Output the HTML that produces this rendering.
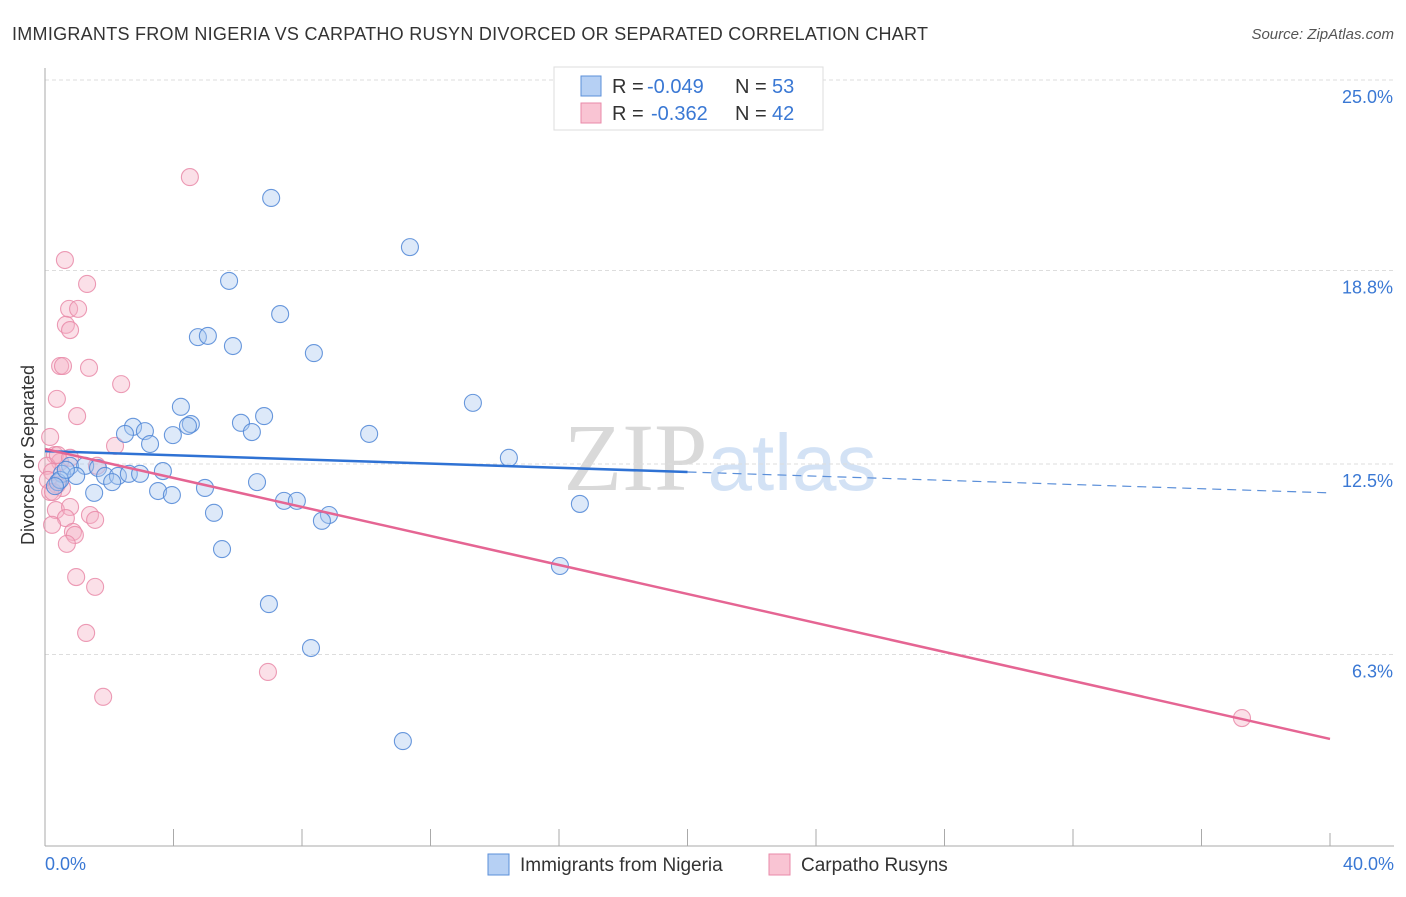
<!DOCTYPE html>
<html><head><meta charset="utf-8"><style>
body{margin:0;background:#fff;font-family:"Liberation Sans",sans-serif;}
svg text{font-family:"Liberation Sans",sans-serif;}
</style></head><body>
<svg id="c" width="1406" height="892" xmlns="http://www.w3.org/2000/svg">
<text x="12" y="40" font-size="18" fill="#333" textLength="916">IMMIGRANTS FROM NIGERIA VS CARPATHO RUSYN DIVORCED OR SEPARATED CORRELATION CHART</text>
<text x="1394" y="39" font-size="15" fill="#555" font-style="italic" text-anchor="end">Source: ZipAtlas.com</text>
<text x="720" y="490" font-size="96" fill="#e0e0e0" text-anchor="middle"><tspan font-family="Liberation Serif" fill="#d9d9d9">ZIP</tspan><tspan fill="#d3e2f5" font-size="80">atlas</tspan></text>
<g id="grid"></g>
<g id="axes"></g>
<g id="pts"></g>
<g id="lines"></g>
<text transform="translate(34,455) rotate(-90)" font-size="18" fill="#333" text-anchor="middle">Divorced or Separated</text>
<text x="45" y="870" font-size="18" fill="#3a78d4">0.0%</text>
<text x="1394" y="870" font-size="18" fill="#3a78d4" text-anchor="end">40.0%</text>
<g>
<rect x="554" y="67" width="269" height="63" fill="#fff" stroke="#ddd"/>
<rect x="581" y="76" width="20" height="20" fill="#b6d0f4" stroke="#5b8fd9"/>
<rect x="581" y="103" width="20" height="20" fill="#f9c4d3" stroke="#e98aa8"/>
<text x="612" y="93" font-size="20" fill="#333">R =</text>
<text x="647" y="93" font-size="20" fill="#3a78d4">-0.049</text>
<text x="735" y="93" font-size="20" fill="#333">N =</text>
<text x="772" y="93" font-size="20" fill="#3a78d4">53</text>
<text x="612" y="120" font-size="20" fill="#333">R =</text>
<text x="651" y="120" font-size="20" fill="#3a78d4">-0.362</text>
<text x="735" y="120" font-size="20" fill="#333">N =</text>
<text x="772" y="120" font-size="20" fill="#3a78d4">42</text>
</g>
<rect x="488" y="854" width="21" height="21" fill="#b6d0f4" stroke="#5b8fd9"/>
<text x="520" y="871" font-size="19" fill="#333">Immigrants from Nigeria</text>
<rect x="769" y="854" width="21" height="21" fill="#f9c4d3" stroke="#e98aa8"/>
<text x="801" y="871" font-size="19" fill="#333">Carpatho Rusyns</text>
</svg>
<script>
const yTicks=[25.0,18.8,12.5,6.3];
const yTickLabels=["25.0%","18.8%","12.5%","6.3%"];
const xTicks=[0,4,8,12,16,20,24,28,32,36,40];
const nigeriaX=[7.04,11.36,5.73,7.32,4.76,5.07,5.85,8.37,13.32,4.23,6.82,6.10,4.54,4.45,2.74,2.49,3.11,3.98,3.27,6.44,10.09,14.44,0.78,1.25,1.65,3.67,0.53,0.97,1.87,2.27,2.61,2.96,0.40,2.09,6.60,4.98,3.52,1.53,3.95,7.44,7.84,16.65,5.26,8.84,8.62,5.51,16.03,6.97,8.28,11.14,0.47,0.31,0.65];
const nigeriaY=[21.16,19.56,18.46,17.38,16.63,16.67,16.34,16.11,14.49,14.36,14.06,13.84,13.80,13.74,13.71,13.48,13.57,13.44,13.15,13.54,13.48,12.70,12.44,12.44,12.37,12.27,12.18,12.11,12.11,12.11,12.18,12.18,11.91,11.91,11.91,11.72,11.62,11.56,11.49,11.30,11.30,11.20,10.91,10.84,10.65,9.73,9.18,7.94,6.51,3.48,11.98,11.78,12.31];
const rusynX=[4.51,0.62,1.31,0.75,1.03,0.65,0.78,0.47,0.56,1.37,2.37,0.37,1.00,0.16,2.18,0.31,0.47,0.06,1.62,0.22,0.09,0.37,0.53,0.16,1.40,0.34,0.78,0.65,1.56,0.22,0.87,0.93,0.68,0.97,1.56,1.28,1.81,6.94,37.26,0.40,0.78,0.25];
const rusynY=[21.84,19.14,18.36,17.55,17.55,17.03,16.86,15.69,15.69,15.63,15.10,14.62,14.06,13.38,13.09,12.79,12.57,12.44,12.44,12.24,11.98,11.82,11.72,11.59,10.84,11.00,11.10,10.74,10.68,10.52,10.29,10.19,9.90,8.82,8.50,7.00,4.92,5.73,4.23,12.79,12.70,11.59];
const nigeriaTrend=[12.92,11.56];
const rusynTrend=[12.99,3.55];

const NS="http://www.w3.org/2000/svg";
const X=v=>45+v/40*1285;
const Y=v=>80+(25-v)*30.72;
function mk(tag,attrs,parent){const e=document.createElementNS(NS,tag);for(const k in attrs)e.setAttribute(k,attrs[k]);document.getElementById(parent).appendChild(e);return e;}
yTicks.forEach((t,i)=>{
  const l=mk('line',{x1:45,x2:1394,y1:Y(t),y2:Y(t),stroke:'#ddd','stroke-dasharray':'4,3'},'grid');
  
  
  const tx=mk('text',{x:1393,y:Y(t)+23,'font-size':18,fill:'#3a78d4','text-anchor':'end'},'grid');
  tx.textContent=yTickLabels[i];
  
  
});
const ya=mk('line',{x1:45,x2:45,y1:68,y2:846,stroke:'#aaa'},'axes');


const xa=mk('line',{x1:45,x2:1394,y1:846,y2:846,stroke:'#aaa'},'axes');


xTicks.forEach(t=>{
  const tk=mk('line',{x1:X(t),x2:X(t),y1:(t===40?833:829),y2:846,stroke:'#aaa'},'axes');
  
  
});
function pts(xs,ys,fill,stroke,name){
  xs.forEach((x,i)=>{
    const c=mk('circle',{cx:X(x),cy:Y(ys[i]),r:8.5,fill:fill,'fill-opacity':0.4,stroke:stroke,'stroke-width':1.1,'stroke-opacity':0.85},'pts');
    
    
  });
}
pts(rusynX,rusynY,'#f4b1c5','#e98aa8','rusyn-point');
pts(nigeriaX,nigeriaY,'#a9c8f0','#4f86d6','nigeria-point');
const nm=nigeriaTrend[0]+(nigeriaTrend[1]-nigeriaTrend[0])*0.5;
const b1=mk('line',{x1:X(0),y1:Y(nigeriaTrend[0]),x2:X(20),y2:Y(nm),stroke:'#2f72d4','stroke-width':2.5},'lines');


const b2=mk('line',{x1:X(20),y1:Y(nm),x2:X(40),y2:Y(nigeriaTrend[1]),stroke:'#5b8fd9','stroke-width':1.2,'stroke-dasharray':'9,6'},'lines');


const p1=mk('line',{x1:X(0),y1:Y(rusynTrend[0]),x2:X(40),y2:Y(rusynTrend[1]),stroke:'#e56593','stroke-width':2.5},'lines');


</script>
</body></html>
